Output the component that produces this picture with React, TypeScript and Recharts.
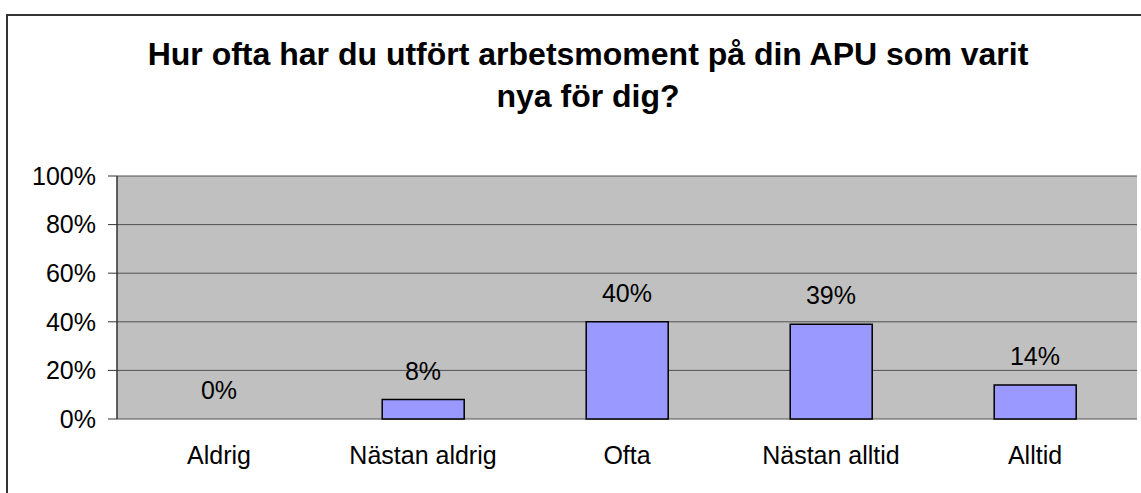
import { ComposedChart, Bar, Line, XAxis, YAxis, CartesianGrid, LabelList } from 'recharts'

const categories = ['Aldrig', 'Nästan aldrig', 'Ofta', 'Nästan alltid', 'Alltid']
const shares = [0, 8, 40, 39, 14]
const yTicks = [0, 20, 40, 60, 80, 100]
const boundaryTicks = [0, 1, 2, 3, 4, 5]
const titleLines = ['Hur ofta har du utfört arbetsmoment på din APU som varit', 'nya för dig?']

const FONT = '"Liberation Sans", Arial, sans-serif'
const labelStyle = { fontSize: 25, fill: '#000', fontFamily: FONT }

export default function App() {
  const data = categories.map((name, i) => ({ name, value: shares[i], pos: i + 0.5 }))

  return (
    <div style={{ position: 'fixed', inset: 0, overflow: 'hidden', background: '#fff', fontFamily: FONT }}>
      <div
        style={{
          position: 'absolute',
          left: 6,
          top: 14,
          width: 1200,
          height: 560,
          border: '2px solid #333',
          boxSizing: 'border-box',
        }}
      />
      <div
        style={{
          position: 'absolute',
          left: 0,
          top: 33,
          width: 1176,
          textAlign: 'center',
          fontWeight: 'bold',
          fontSize: 32,
          lineHeight: '42px',
          color: '#000',
        }}
      >
        {titleLines.map((t) => (
          <div key={t}>{t}</div>
        ))}
      </div>
      <div style={{ position: 'absolute', left: 0, top: 0 }}>
        <ComposedChart
          width={1141}
          height={493}
          data={data}
          margin={{ top: 176, right: 4, left: 0, bottom: 34 }}
          barCategoryGap="30%"
        >
          <CartesianGrid fill="#C0C0C0" stroke="#505050" vertical={false} />
          <XAxis
            xAxisId="b"
            type="number"
            dataKey="pos"
            domain={[0, 5]}
            ticks={boundaryTicks}
            tick={false}
            tickSize={8}
            height={0}
            axisLine={{ stroke: '#333', strokeWidth: 1.5 }}
            tickLine={{ stroke: '#333' }}
          />
          <XAxis
            dataKey="name"
            height={40}
            axisLine={false}
            tickLine={false}
            tickSize={0}
            tickMargin={27}
            tick={labelStyle}
          />
          <YAxis
            domain={[0, 100]}
            ticks={yTicks}
            width={117}
            tickFormatter={(v: number) => `${v}%`}
            tickSize={9}
            tickMargin={12}
            tick={labelStyle}
            axisLine={{ stroke: '#333', strokeWidth: 1.5 }}
            tickLine={{ stroke: '#333' }}
          />
          <YAxis
            yAxisId="r"
            orientation="right"
            width={0}
            domain={[0, 100]}
            tick={false}
            tickLine={false}
            axisLine={{ stroke: '#808080', strokeWidth: 2 }}
          />
          <Bar dataKey="value" fill="#9999FF" stroke="#000" strokeWidth={1.5} isAnimationActive={false} />
          <Line dataKey="value" stroke="none" dot={false} activeDot={false} isAnimationActive={false}>
            <LabelList
              dataKey="value"
              position="top"
              offset={20}
              formatter={(v: number) => `${v}%`}
              style={labelStyle}
            />
          </Line>
        </ComposedChart>
      </div>
    </div>
  )
}
